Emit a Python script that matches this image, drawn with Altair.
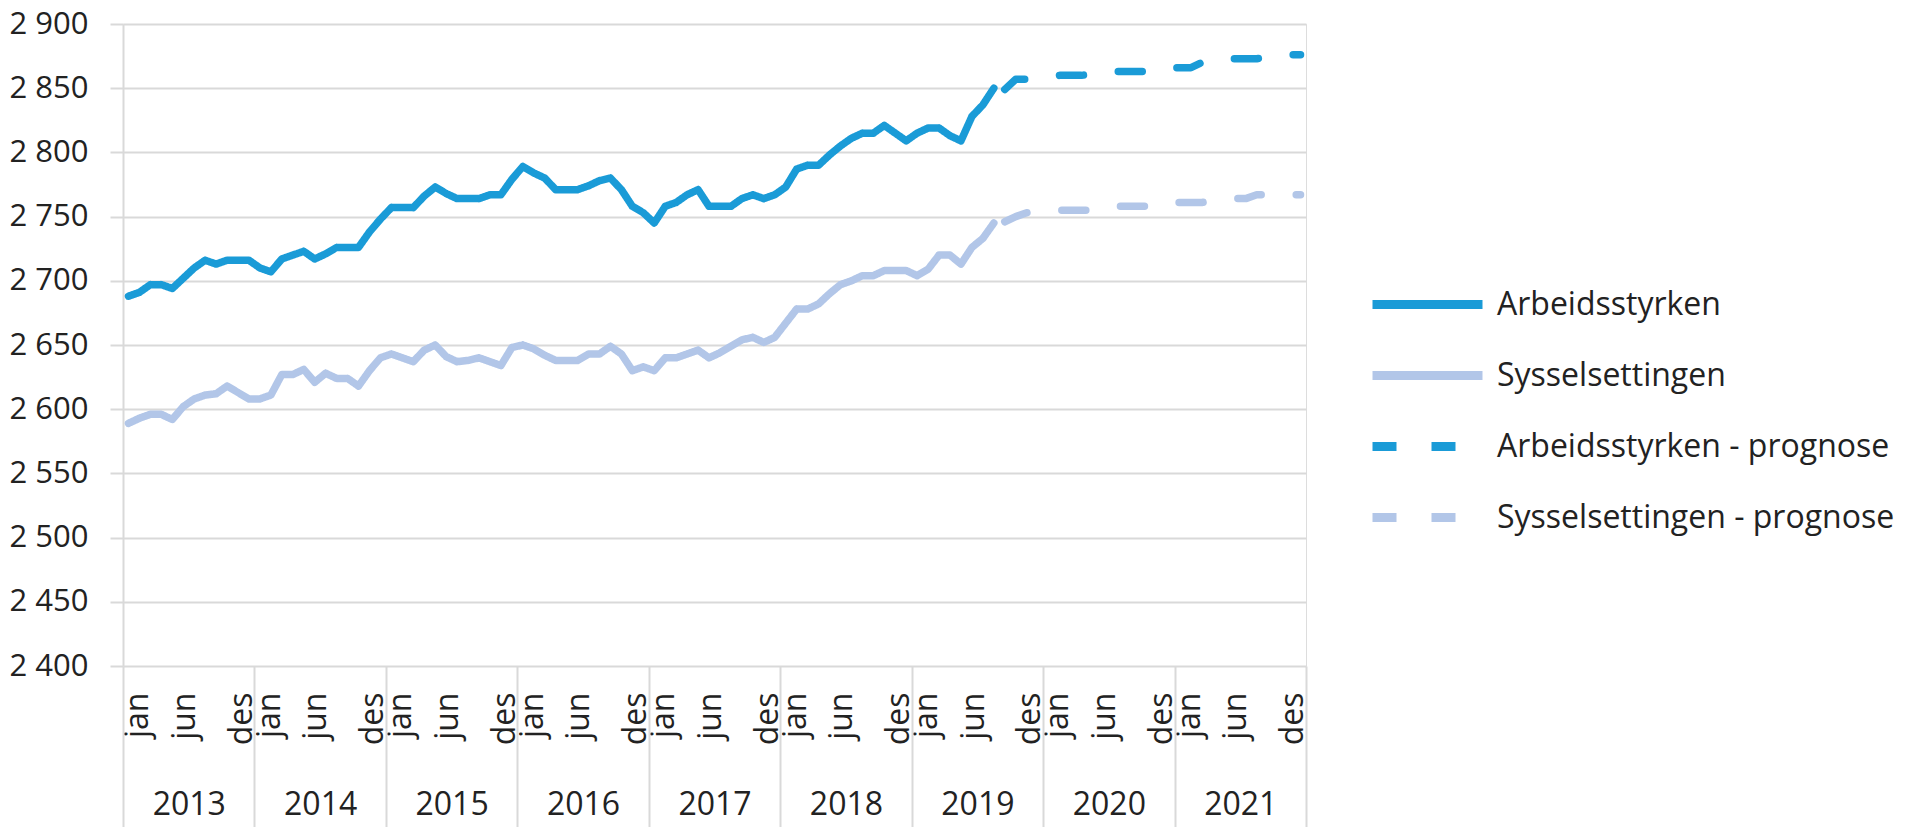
import altair as alt
import pandas as pd

YEARS = ["2013", "2014", "2015", "2016", "2017", "2018", "2019", "2020", "2021"]
MONTH_LABELS = ["jan", "jun", "des"]
SERIES = ["Arbeidsstyrken", "Sysselsettingen",
          "Arbeidsstyrken - prognose", "Sysselsettingen - prognose"]
COLORS = ["#1a9bd7", "#b2c6e8", "#1a9bd7", "#b2c6e8"]
Y_TICKS = [2400, 2450, 2500, 2550, 2600, 2650, 2700, 2750, 2800, 2850, 2900]

# Monthly values, jan 2013 - aug 2019 (thousand persons)
ARBEID = [2688, 2691, 2697, 2697, 2694, 2702, 2710, 2716, 2713, 2716,
          2716, 2716, 2710, 2707, 2717, 2720, 2723, 2717, 2721, 2726,
          2726, 2726, 2738, 2748, 2757, 2757, 2757, 2766, 2773, 2768,
          2764, 2764, 2764, 2767, 2767, 2779, 2789, 2784, 2780, 2771,
          2771, 2771, 2774, 2778, 2780, 2771, 2758, 2753, 2745, 2758,
          2761, 2767, 2771, 2758, 2758, 2758, 2764, 2767, 2764, 2767,
          2773, 2787, 2790, 2790, 2798, 2805, 2811, 2815, 2815, 2821,
          2815, 2809, 2815, 2819, 2819, 2813, 2809, 2828, 2837, 2850]
SYSSEL = [2589, 2593, 2596, 2596, 2592, 2602, 2608, 2611, 2612, 2618,
          2613, 2608, 2608, 2611, 2627, 2627, 2631, 2621, 2628, 2624,
          2624, 2618, 2630, 2640, 2643, 2640, 2637, 2646, 2650, 2641,
          2637, 2638, 2640, 2637, 2634, 2648, 2650, 2647, 2642, 2638,
          2638, 2638, 2643, 2643, 2649, 2643, 2630, 2633, 2630, 2640,
          2640, 2643, 2646, 2640, 2644, 2649, 2654, 2656, 2652, 2656,
          2667, 2678, 2678, 2682, 2690, 2697, 2700, 2704, 2704, 2708,
          2708, 2708, 2704, 2709, 2720, 2720, 2713, 2726, 2733, 2745]
# Forecast, sep 2019 - des 2021
ARBEID_PROG = [2849, 2857, 2857, 2858, 2859, 2860, 2860, 2860, 2861, 2862,
               2863, 2863, 2863, 2863, 2864, 2866, 2866, 2866, 2870, 2872,
               2873, 2873, 2873, 2873, 2874, 2875, 2876, 2876]
SYSSEL_PROG = [2746, 2750, 2753, 2754, 2754, 2755, 2755, 2755, 2755, 2756,
               2758, 2758, 2758, 2758, 2759, 2761, 2761, 2761, 2761, 2762,
               2763, 2764, 2764, 2767, 2767, 2767, 2767, 2767]

rows = []
for i, v in enumerate(ARBEID):
    rows.append({"m": i, "v": v, "s": SERIES[0]})
for i, v in enumerate(SYSSEL):
    rows.append({"m": i, "v": v, "s": SERIES[1]})
start = len(ARBEID)
for i, v in enumerate(ARBEID_PROG):
    rows.append({"m": start + i, "v": v, "s": SERIES[2]})
for i, v in enumerate(SYSSEL_PROG):
    rows.append({"m": start + i, "v": v, "s": SERIES[3]})
df = pd.DataFrame(rows)

n_months = 12 * len(YEARS)
GRID = "#d9d9d9"
TXT = "#222222"
FONT = "Open Sans"
FS = 32

xscale = alt.Scale(domain=[-0.5, n_months - 0.5], nice=False, zero=False)
yscale = alt.Scale(domain=[Y_TICKS[0], Y_TICKS[-1]], nice=False, zero=False)

# label anchors within each year (month-index units)
month_label_pos = [0.85, 5.1, 10.3]
month_vals = [12 * k + p for k in range(len(YEARS)) for p in month_label_pos]
month_expr = ("(datum.value % 12) < 3 ? '{0}' : (datum.value % 12) < 8 ? '{1}' : '{2}'"
              .format(*MONTH_LABELS))

month_axis = alt.Axis(orient="bottom", values=month_vals, labelExpr=month_expr,
                      labelAngle=270, labelAlign="right", labelBaseline="middle",
                      labelFontSize=FS, labelFont=FONT, labelColor=TXT, labelPadding=26,
                      ticks=False, tickSize=0, domain=False, grid=False, title=None,
                      labelOverlap=False, labelFlush=False, labelBound=False)

year_vals = [12 * k + 5.5 for k in range(len(YEARS))]
year_expr = "[" + ",".join("'%s'" % y for y in YEARS) + "][floor(datum.value / 12)]"
year_axis = alt.Axis(orient="bottom", values=year_vals, labelExpr=year_expr, labelAngle=0,
                     labelBaseline="middle", labelAlign="center", labelFontSize=FS,
                     labelFont=FONT, labelColor=TXT, labelPadding=138, ticks=False,
                     tickSize=0, domain=False, grid=False, title=None,
                     labelOverlap=False, labelFlush=False, labelBound=False)

sep_vals = [12 * k - 0.5 for k in range(len(YEARS) + 1)]
sep_axis = alt.Axis(orient="bottom", values=sep_vals, labels=False, ticks=True,
                    tickSize=165, tickColor=GRID, tickWidth=2, domain=False,
                    grid=False, title=None)

y_axis = alt.Axis(values=Y_TICKS,
                  labelExpr="replace(format(datum.value, ','), ',', ' ')",
                  labelFontSize=31, labelFont=FONT, labelColor=TXT, labelPadding=22,
                  tickSize=13, tickColor=GRID, tickWidth=2, grid=True,
                  gridColor=GRID, gridWidth=2, domain=True, domainColor=GRID,
                  domainWidth=2, title=None)

legend = alt.Legend(orient="none", legendX=1245, legendY=245, title=None,
                    symbolType="stroke", symbolSize=12100, symbolStrokeWidth=9,
                    labelFontSize=32, labelFont=FONT, labelColor=TXT, labelOffset=10,
                    clipHeight=71, rowPadding=0, padding=0, labelLimit=700)

lines = alt.Chart(df).mark_line(strokeWidth=7.5, strokeCap="round", strokeJoin="round").encode(
    x=alt.X("m:Q", scale=xscale, axis=month_axis),
    y=alt.Y("v:Q", scale=yscale, axis=y_axis),
    color=alt.Color("s:N", scale=alt.Scale(domain=SERIES, range=COLORS), legend=legend),
    strokeDash=alt.StrokeDash("s:N", scale=alt.Scale(
        domain=SERIES, range=[[1, 0], [1, 0], [24, 35], [24, 35]]), legend=legend),
    order="m:Q",
)

years_layer = alt.Chart(df).mark_point(opacity=0).encode(
    x=alt.X("m:Q", scale=xscale, axis=year_axis),
    y=alt.Y("v:Q", scale=yscale, axis=y_axis),
)

sep_layer = alt.Chart(df).mark_point(opacity=0).encode(
    x=alt.X("m:Q", scale=xscale, axis=sep_axis),
    y=alt.Y("v:Q", scale=yscale, axis=y_axis),
)

chart = alt.layer(lines, years_layer, sep_layer).resolve_axis(x="independent").properties(
    width=1183, height=642,
    autosize=alt.AutoSizeParams(type="none"),
    padding={"left": 115, "top": 16, "right": 597, "bottom": 161},
).configure_view(stroke=None).configure(font=FONT)

chart.save("out.html", embed_options={"renderer": "svg", "actions": False})
